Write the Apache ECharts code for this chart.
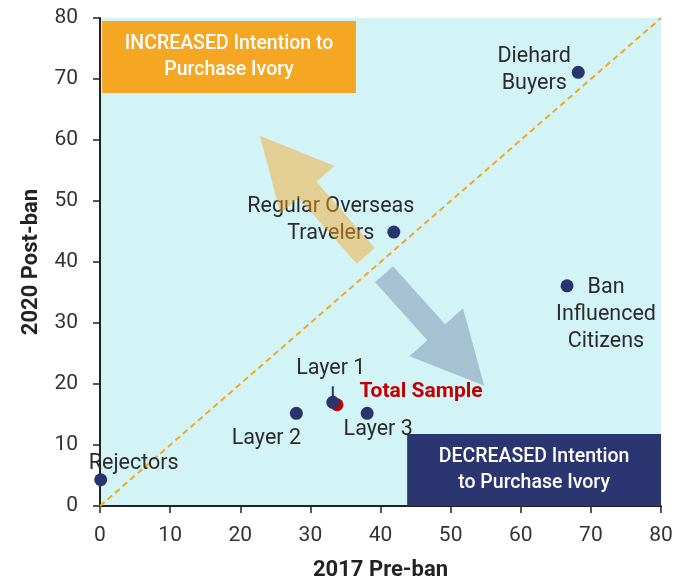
<!DOCTYPE html>
<html>
<head>
<meta charset="utf-8">
<script src="https://cdn.jsdelivr.net/npm/echarts@6/dist/echarts.min.js"></script>
<style>
html, body { margin: 0; padding: 0; background: #fff; }
#chart { width: 690px; height: 580px; }
</style>
</head>
<body>
<div id="chart"></div>
<script>
// consumer segments: purchase intention before (2017) and after (2020) the ban
var groupNames = ['Rejectors', 'Layer 2', 'Layer 1', 'Layer 3', 'Regular Overseas\nTravelers', 'Ban\nInfluenced\nCitizens', 'Diehard\nBuyers'];
var preBan2017 = [0.1, 28.0, 33.2, 38.1, 41.9, 66.6, 68.2];
var postBan2020 = [4.3, 15.2, 17.0, 15.2, 44.9, 36.1, 71.1];

var totalName = 'Total Sample';
var totalPre = [33.8];
var totalPost = [16.6];

// y = x reference line
var refLineX = [0, 80];
var refLineY = [0, 80];

// label placement (px offsets from the dot centre)
var labelOffsets = [[33, -16], [-30, 25], [-2, -34], [11, 16], [-63, -12], [39, 29], [-44, -2]];

var NAVY = '#28346b';
var ORANGE = '#f5a623';
var FONT = 'Roboto, "Noto Sans", sans-serif';

var chart = echarts.init(document.getElementById('chart'));

var groupData = groupNames.map(function (n, i) {
    return {
        name: n,
        value: [preBan2017[i], postBan2020[i]],
        label: { offset: labelOffsets[i] }
    };
});

// block arrow built from tail -> tip, in pixels
function arrowPoints(p0, p1, shaftHalf, headHalf, headLen) {
    var dx = p1[0] - p0[0], dy = p1[1] - p0[1];
    var len = Math.sqrt(dx * dx + dy * dy);
    var ux = dx / len, uy = dy / len, nx = -uy, ny = ux;
    var bx = p1[0] - ux * headLen, by = p1[1] - uy * headLen;
    return [
        [p0[0] + nx * shaftHalf, p0[1] + ny * shaftHalf],
        [bx + nx * shaftHalf, by + ny * shaftHalf],
        [bx + nx * headHalf, by + ny * headHalf],
        [p1[0], p1[1]],
        [bx - nx * headHalf, by - ny * headHalf],
        [bx - nx * shaftHalf, by - ny * shaftHalf],
        [p0[0] - nx * shaftHalf, p0[1] - ny * shaftHalf]
    ];
}

var option = {
    animation: false,
    textStyle: { fontFamily: FONT },
    grid: {
        left: 100, right: 29, top: 18, bottom: 74,
        outerBoundsMode: 'none',
        show: true, backgroundColor: '#d3f4f7', borderWidth: 0
    },
    xAxis: {
        type: 'value', min: 0, max: 80, interval: 10,
        name: '2017 Pre-ban', nameLocation: 'middle', nameGap: 53,
        nameTextStyle: { fontSize: 22, fontWeight: 'bold', color: '#222', fontFamily: FONT },
        axisLine: { lineStyle: { color: '#222', width: 2 } },
        axisTick: { length: 7, lineStyle: { color: '#222', width: 1.5 } },
        axisLabel: { fontSize: 21, color: '#333', margin: 19 },
        splitLine: { show: false }
    },
    yAxis: {
        type: 'value', min: 0, max: 80, interval: 10,
        name: '2020 Post-ban', nameLocation: 'middle', nameGap: 58,
        nameTextStyle: { fontSize: 22, fontWeight: 'bold', color: '#222', fontFamily: FONT },
        axisLine: { show: true, lineStyle: { color: '#222', width: 2 } },
        axisTick: { show: true, length: 7, lineStyle: { color: '#222', width: 1.5 } },
        axisLabel: { fontSize: 21, color: '#333', margin: 22 },
        splitLine: { show: false }
    },
    series: [
        {
            // diagonal + the two quadrant boxes
            type: 'line',
            data: refLineX.map(function (x, i) { return [x, refLineY[i]]; }),
            symbol: 'none',
            silent: true,
            z: 1,
            lineStyle: { color: ORANGE, width: 2, type: [6, 4] },
            markArea: {
                silent: true,
                label: {
                    position: 'inside', color: '#fff', fontSize: 19.5, fontWeight: 500,
                    lineHeight: 26, fontFamily: FONT
                },
                data: [
                    [{ name: 'INCREASED Intention to\nPurchase Ivory', coord: [0.3, 67.7], itemStyle: { color: ORANGE } },
                     { coord: [36.5, 79.5] }],
                    [{ name: 'DECREASED Intention\nto Purchase Ivory', coord: [43.8, 0], itemStyle: { color: '#2b3670' } },
                     { coord: [80, 11.8] }]
                ]
            }
        },
        {
            type: 'scatter',
            name: totalName,
            data: totalPre.map(function (x, i) { return [x, totalPost[i]]; }),
            symbolSize: 13,
            z: 2,
            itemStyle: { color: '#c00000', opacity: 1 },
            label: {
                show: true, position: 'inside', offset: [84, -13],
                formatter: totalName, color: '#c00000', fontSize: 21, fontWeight: 'bold'
            }
        },
        {
            type: 'scatter',
            data: groupData,
            symbolSize: 13,
            z: 3,
            itemStyle: { color: NAVY, opacity: 1 },
            label: {
                show: true, position: 'inside', formatter: '{b}',
                color: '#2b2b2b', fontSize: 21.5, lineHeight: 27, align: 'center'
            }
        },
        {
            // short leader line for the Layer 1 label
            type: 'custom',
            silent: true,
            z: 4,
            data: [[preBan2017[2], postBan2020[2]]],
            renderItem: function (params, api) {
                var p = api.coord([api.value(0), api.value(1)]);
                return {
                    type: 'line',
                    shape: { x1: p[0], y1: p[1] - 16, x2: p[0], y2: p[1] - 3 },
                    style: { stroke: NAVY, lineWidth: 2 }
                };
            }
        },
        {
            // the two big direction arrows (tail x, tail y, tip x, tip y)
            type: 'custom',
            silent: true,
            z: 5,
            data: [
                [37.9, 41.0, 22.8, 60.7, 0],
                [40.5, 38.0, 54.8, 19.7, 1]
            ],
            renderItem: function (params, api) {
                var p0 = api.coord([api.value(0), api.value(1)]);
                var p1 = api.coord([api.value(2), api.value(3)]);
                var tan = api.value(4) === 0;
                return {
                    type: 'polygon',
                    shape: { points: arrowPoints(p0, p1, 12, 36, 72) },
                    style: {
                        fill: tan ? ORANGE : '#2b3670',
                        opacity: tan ? 0.47 : 0.27
                    }
                };
            }
        }
    ]
};

chart.setOption(option);
</script>
</body>
</html>
